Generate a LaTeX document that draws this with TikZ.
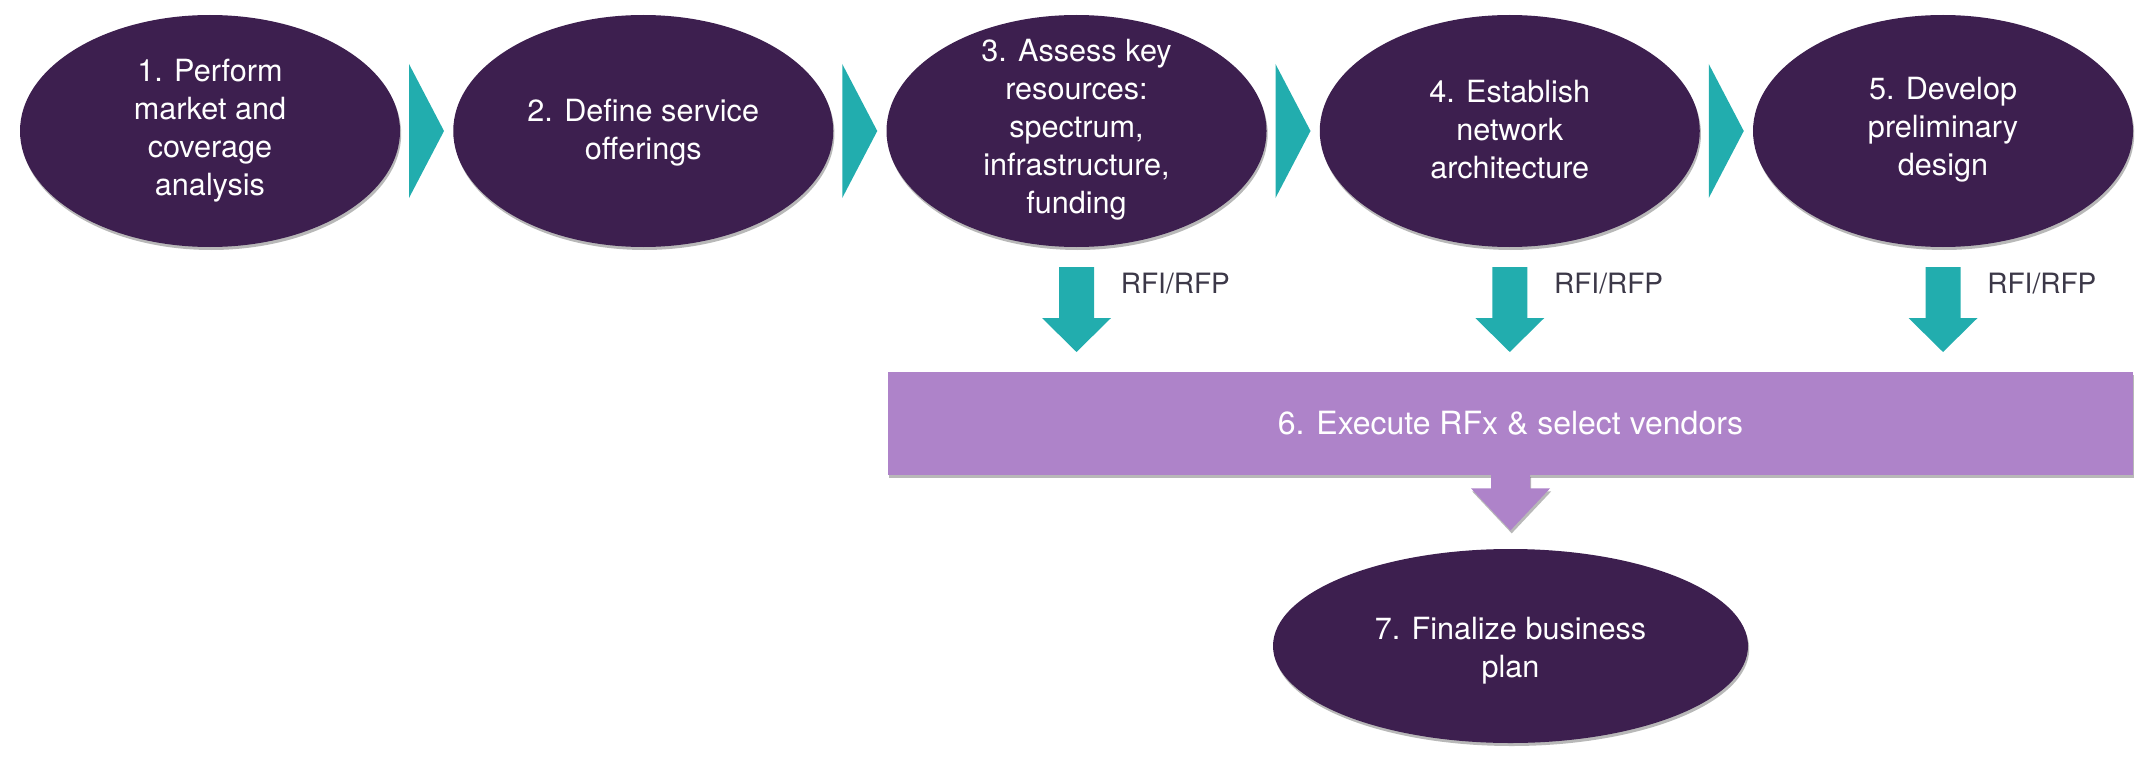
\documentclass[tikz,border=0pt]{standalone}
\usepackage{fontspec}
\setmainfont{TeX Gyre Heros}
\usetikzlibrary{shapes.geometric,shadows,calc}
\definecolor{darkp}{RGB}{61,31,79}
\definecolor{tealc}{RGB}{34,173,174}
\definecolor{lightp}{RGB}{174,131,201}
\definecolor{labelc}{RGB}{60,56,72}
\tikzset{
  x=0.5pt, y=-0.5pt,
  shad/.style={drop shadow={shadow xshift=0.6pt, shadow yshift=-1.5pt, fill=black, opacity=0.28}},
  stage/.style={ellipse, fill=darkp, shad, minimum width=190pt, minimum height=116pt, inner sep=0pt},
  etext/.style={text=white, align=center, font=\fontsize{15.3}{19}\selectfont, inner sep=0pt},
  rfx/.style={rectangle, fill=lightp, shad, minimum width=622.5pt, minimum height=51.5pt, inner sep=0pt,
              text=white, font=\fontsize{16}{19}\selectfont},
  rfilabel/.style={text=labelc, font=\fontsize{14}{16}\selectfont, inner sep=0pt, anchor=base west},
  dnarrow/.pic={\fill[tealc] (-17.5,0) -- (17.5,0) -- (17.5,51) -- (34.5,51) -- (0,85) -- (-34.5,51) -- (-17.5,51) -- cycle;},
}
\begin{document}
\begin{tikzpicture}
\useasboundingbox (0,0) rectangle (2152,765);
% top row
\node[stage] (e1) at (210,131) {};
\node[stage] (e2) at (643.25,131) {};
\node[stage] (e3) at (1076.5,131) {};
\node[stage] (e4) at (1509.75,131) {};
\node[stage] (e5) at (1943,131) {};
\node[etext] (t1) at (e1) {1. Perform\\market and\\coverage\\analysis};
\node[etext] (t2) at ($(e2)+(0,2)$) {2. Define service\\offerings};
\node[etext] (t3) at ($(e3)+(0,-1)$) {3. Assess key\\resources:\\spectrum,\\infrastructure,\\funding};
\node[etext] (t4) at ($(e4)+(0,-1)$) {4. Establish\\network\\architecture};
\node[etext] (t5) at ($(e5)+(0,-1)$) {5. Develop\\preliminary\\design};
% chevrons
\foreach \a in {e1,e2,e3,e4}{
  \fill[tealc] ($(\a.center)+(199,-67)$) -- ($(\a.center)+(234,0)$) -- ($(\a.center)+(199,67)$) -- cycle;
}
% down arrows and labels
\foreach \a/\n in {e3/3,e4/4,e5/5}{
  \coordinate (a\n) at ($(\a.center)+(0,136)$);
  \pic at (a\n) {dnarrow};
  \node[rfilabel] (l\n) at ($(a\n)+(44,26)$) {RFI/RFP};
}
% RFx box
\node[rfx] (r6) at (1510.5,423.5) {6. Execute RFx \& select vendors};
\fill[lightp, shad] ($(r6.south)+(-19.5,-1)$) -- ++(39,0) -- ++(0,14) -- ++(20,0) -- ($(r6.south)+(0,55)$) -- ++(-39.5,-42) -- ++(20,0) -- cycle;
% final stage
\node[stage, minimum width=237.5pt, minimum height=97pt] (e7) at (1510.5,646) {};
\node[etext] (t7) at ($(e7)+(0,5)$) {7. Finalize business\\plan};
\end{tikzpicture}
\end{document}
